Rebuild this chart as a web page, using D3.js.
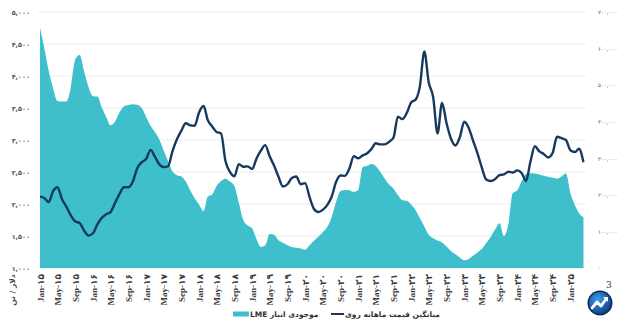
<!DOCTYPE html>
<html><head><meta charset="utf-8">
<script src="https://cdn.jsdelivr.net/npm/d3@7/dist/d3.min.js"></script>
<style>body{margin:0;background:#fff}svg{display:block}</style>
</head><body><svg id="c" width="624" height="325"></svg>
<script>
// LME stock (tonnes), monthly Jan-2015 .. Apr-2025
const stock = [4750,4420,4090,3810,3610,3600,3600,3820,4260,4330,4070,3830,
3685,3680,3510,3360,3230,3290,3430,3525,3545,3560,3550,3500,
3360,3220,3130,3010,2840,2670,2510,2450,2430,2350,2210,2090,
1990,1890,2115,2150,2280,2360,2395,2350,2280,2020,1750,1665,
1620,1445,1330,1350,1530,1520,1435,1395,1355,1330,1315,1305,
1285,1355,1425,1490,1560,1640,1790,2030,2205,2220,2215,2190,
2220,2580,2595,2625,2595,2505,2400,2305,2240,2140,2060,2050,
1990,1900,1780,1650,1520,1465,1430,1400,1335,1265,1215,1165,
1120,1140,1190,1240,1295,1390,1480,1600,1700,1500,1690,2170,
2215,2360,2470,2480,2475,2460,2440,2425,2410,2395,2430,2475,
2170,1980,1860,1790];
// monthly average zinc price (thousands), monthly Jan-2015 .. Apr-2025
const price = [195,191,180,210,221,189,168,144,127,123,102,89,
95,120,137,147,153,178,202,221,221,236,273,289,
298,323,305,284,276,278,319,352,376,396,390,389,
426,443,405,387,372,368,293,263,251,284,277,278,
271,300,320,336,306,280,250,223,229,246,250,229,
232,193,162,153,159,172,194,235,253,252,272,306,
300,308,313,325,341,338,338,345,357,414,407,424,
453,461,496,592,508,467,368,451,396,354,335,357,
400,383,350,315,276,242,238,243,254,256,263,261,
267,259,238,291,333,319,312,302,315,359,355,350,
322,317,326,289];
const leftTicks = [1000,1500,2000,2500,3000,3500,4000,4500,5000];
const leftTickLabels = ["۱,۰۰۰","۱,۵۰۰","۲,۰۰۰","۲,۵۰۰","۳,۰۰۰","۳,۵۰۰","۴,۰۰۰","۴,۵۰۰","۵,۰۰۰"];
const rightTicks = [0,100,200,300,400,500,600,700];
const rightTickLabels = ["۰","۱۰۰,۰۰۰","۲۰۰,۰۰۰","۳۰۰,۰۰۰","۴۰۰,۰۰۰","۵۰۰,۰۰۰","۶۰۰,۰۰۰","۷۰۰,۰۰۰"];
const xTickLabels = ["Jan-۱۵","May-۱۵","Sep-۱۵","Jan-۱۶","May-۱۶","Sep-۱۶","Jan-۱۷","May-۱۷","Sep-۱۷",
"Jan-۱۸","May-۱۸","Sep-۱۸","Jan-۱۹","May-۱۹","Sep-۱۹","Jan-۲۰","May-۲۰","Sep-۲۰","Jan-۲۱","May-۲۱","Sep-۲۱",
"Jan-۲۲","May-۲۲","Sep-۲۲","Jan-۲۳","May-۲۳","Sep-۲۳","Jan-۲۴","May-۲۴","Sep-۲۴","Jan-۲۵"];
const legendLabels = ["موجودی انبار LME","میانگین قیمت ماهانه روی"];
const leftUnit = "دلار / تن";

const dates = stock.map((d,i)=>new Date(2015,i,1));
const xTickDates = xTickLabels.map((d,i)=>new Date(2015,i*4,1));

const svg = d3.select("#c");
const x = d3.scaleTime().domain([new Date(2015,0,1),new Date(2025,0,1)]).range([40,570.4]);
const yL = d3.scaleLinear().domain([1000,5000]).range([268,12]);
const yR = d3.scaleLinear().domain([0,700]).range([268,12]);

const teal = "#3fbfcc", navy = "#17395f";

// gridlines
svg.append("g").selectAll("line").data(leftTicks).join("line")
  .attr("x1",38).attr("x2",586).attr("y1",d=>yL(d)).attr("y2",d=>yL(d))
  .attr("stroke","#ededed").attr("stroke-width",1);

// area
const area = d3.area().x((d,i)=>x(dates[i])).y0(yL(1000)).y1(d=>yL(d)).curve(d3.curveMonotoneX);
svg.append("path").datum(stock).attr("d",area).attr("fill",teal);

// line
const line = d3.line().x((d,i)=>x(dates[i])).y(d=>yR(d)).curve(d3.curveMonotoneX);
svg.append("path").datum(price).attr("d",line).attr("fill","none")
  .attr("stroke",navy).attr("stroke-width",2.4).attr("stroke-linejoin","round");

// left axis
const axL = d3.axisLeft(yL).tickValues(leftTicks).tickFormat((d,i)=>leftTickLabels[i]).tickSize(0).tickPadding(0);
const gL = svg.append("g").attr("transform","translate(30,0)").call(axL);
gL.select(".domain").remove();
gL.selectAll("text").attr("font-family","DejaVu Sans").attr("font-size",6.5).attr("fill","#555").attr("font-weight","bold");

// right axis
const axR = d3.axisRight(yR).tickValues(rightTicks).tickFormat((d,i)=>rightTickLabels[i]).tickSize(0).tickPadding(0);
const gR = svg.append("g").attr("transform","translate(598,0)").call(axR);
gR.select(".domain").remove();
gR.selectAll("text").attr("font-family","DejaVu Sans").attr("font-size",5.5).attr("fill","#666");

// x axis
const axB = d3.axisBottom(x).tickValues(xTickDates).tickFormat((d,i)=>xTickLabels[i]).tickSize(0).tickPadding(0);
const gB = svg.append("g").attr("transform","translate(0,274)").call(axB);
gB.select(".domain").remove();
gB.selectAll("text").attr("transform","rotate(-90)").attr("text-anchor","end")
  .attr("x",0).attr("y",0).attr("dy","0.35em").attr("dx","0")
  .attr("font-family","Liberation Serif, DejaVu Sans").attr("font-weight","bold").attr("font-size",9).attr("fill","#3a3a3a");

// unit label
svg.append("text").attr("transform","translate(12,290) rotate(-90)").attr("text-anchor","middle")
  .attr("font-family","DejaVu Sans").attr("font-size",7.5).attr("font-weight","bold").attr("fill","#444")
  .attr("dy","0.35em").text(leftUnit);

// legend
const lg = svg.append("g").attr("font-family","DejaVu Sans").attr("font-size",7.5).attr("font-weight","bold").attr("fill","#333");
lg.append("rect").attr("x",233).attr("y",311.5).attr("width",16).attr("height",5).attr("fill",teal);
lg.append("text").attr("x",250).attr("y",314).attr("dy","0.35em").attr("direction","rtl").attr("text-anchor","end").text(legendLabels[0]);
lg.append("line").attr("x1",331).attr("x2",344).attr("y1",314).attr("y2",314).attr("stroke",navy).attr("stroke-width",2);
lg.append("text").attr("x",345).attr("y",314).attr("dy","0.35em").attr("direction","rtl").attr("text-anchor","end").text(legendLabels[1]);

// logo
const defs = svg.append("defs");
const gr = defs.append("radialGradient").attr("id","lg1").attr("cx","40%").attr("cy","35%").attr("r","70%");
gr.append("stop").attr("offset","0%").attr("stop-color","#3d9be8");
gr.append("stop").attr("offset","100%").attr("stop-color","#0b3f86");
const logo = svg.append("g").attr("transform","translate(600,303)");
logo.append("circle").attr("r",12.5).attr("fill","#0a2a55");
logo.append("circle").attr("r",11).attr("fill","url(#lg1)");
logo.append("path").attr("d","M-8,5 L-3,-1 L1,3 L6,-4").attr("fill","none").attr("stroke","#fff").attr("stroke-width",2.8).attr("stroke-linecap","round").attr("stroke-linejoin","round");
logo.append("path").attr("d","M3,-6 L8,-6 L8,-1 Z").attr("fill","#fff");
svg.append("text").attr("x",606).attr("y",288).attr("font-family","DejaVu Serif").attr("font-size",9).attr("fill","#333").text("3");
</script></body></html>
